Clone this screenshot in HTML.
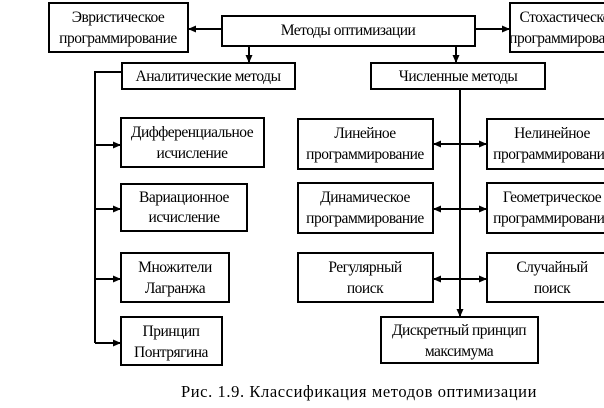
<!DOCTYPE html>
<html><head><meta charset="utf-8"><style>
html,body{margin:0;padding:0;background:#fff;width:604px;height:408px;overflow:hidden}
svg text{font-family:"Liberation Serif","DejaVu Serif",serif;font-size:15.5px;letter-spacing:-0.5px;fill:#000}
</style></head><body>
<svg width="604" height="408" viewBox="0 0 604 408" xmlns="http://www.w3.org/2000/svg">
<defs><marker id="a" markerWidth="8" markerHeight="8" refX="7" refY="4" orient="auto" markerUnits="userSpaceOnUse"><path d="M0,0.5 L8,4 L0,7.5z" fill="#000"/></marker></defs>
<g fill="none" stroke="#000" stroke-width="2">
<rect x="49" y="3" width="139" height="49"/>
<rect x="222" y="16" width="253" height="30"/>
<rect x="510" y="3" width="110" height="49"/>
<rect x="122" y="63" width="173" height="26"/>
<rect x="371" y="63" width="174" height="26"/>
<rect x="121" y="118" width="143" height="49"/>
<rect x="121" y="184" width="126" height="47"/>
<rect x="121" y="253" width="108" height="49"/>
<rect x="121" y="317" width="101" height="48"/>
<rect x="298" y="119" width="135" height="50"/>
<rect x="487" y="119" width="130" height="50"/>
<rect x="298" y="183" width="135" height="50"/>
<rect x="487" y="183" width="130" height="50"/>
<rect x="298" y="253" width="135" height="49"/>
<rect x="487" y="253" width="130" height="49"/>
<rect x="381" y="317" width="157" height="46"/>
</g>
<g stroke="#000" stroke-width="2" fill="none">
<line x1="222" y1="29" x2="189" y2="29" marker-end="url(#a)"/>
<line x1="475" y1="29" x2="509" y2="29" marker-end="url(#a)"/>
<line x1="249" y1="46" x2="249" y2="62" marker-end="url(#a)"/>
<line x1="456" y1="46" x2="456" y2="62" marker-end="url(#a)"/>
<polyline points="122,72 95,72 95,343"/>
<line x1="95" y1="145" x2="120" y2="145" marker-end="url(#a)"/>
<line x1="95" y1="209" x2="120" y2="209" marker-end="url(#a)"/>
<line x1="95" y1="279" x2="120" y2="279" marker-end="url(#a)"/>
<line x1="95" y1="343" x2="120" y2="343" marker-end="url(#a)"/>
<line x1="460" y1="89" x2="460" y2="316" marker-end="url(#a)"/>
<line x1="460" y1="144" x2="434" y2="144" marker-end="url(#a)"/>
<line x1="460" y1="144" x2="486" y2="144" marker-end="url(#a)"/>
<line x1="460" y1="209" x2="434" y2="209" marker-end="url(#a)"/>
<line x1="460" y1="209" x2="486" y2="209" marker-end="url(#a)"/>
<line x1="460" y1="279" x2="434" y2="279" marker-end="url(#a)"/>
<line x1="460" y1="279" x2="486" y2="279" marker-end="url(#a)"/>
</g>
<g text-anchor="middle">
<text x="118" y="22">Эвристическое</text><text x="118" y="43">программирование</text>
<text x="348" y="35">Методы оптимизации</text>
<text x="568" y="22">Стохастическое</text><text x="568" y="43">программирование</text>
<text x="208" y="81">Аналитические методы</text>
<text x="458" y="81">Численные методы</text>
<text x="192" y="137">Дифференциальное</text><text x="192" y="158">исчисление</text>
<text x="184" y="202">Вариационное</text><text x="184" y="222">исчисление</text>
<text x="175" y="272">Множители</text><text x="175" y="293">Лагранжа</text>
<text x="171" y="336">Принцип</text><text x="171" y="357">Понтрягина</text>
<text x="365" y="138">Линейное</text><text x="365" y="159">программирование</text>
<text x="552" y="138">Нелинейное</text><text x="552" y="159">программирование</text>
<text x="365" y="202">Динамическое</text><text x="365" y="223">программирование</text>
<text x="552" y="202">Геометрическое</text><text x="552" y="223">программирование</text>
<text x="365" y="272">Регулярный</text><text x="365" y="293">поиск</text>
<text x="552" y="272">Случайный</text><text x="552" y="293">поиск</text>
<text x="459" y="335">Дискретный принцип</text><text x="459" y="356">максимума</text>
<text x="359" y="397" style="font-size:16.5px;letter-spacing:0.6px">Рис. 1.9. Классификация методов оптимизации</text>
</g>
</svg>
</body></html>
